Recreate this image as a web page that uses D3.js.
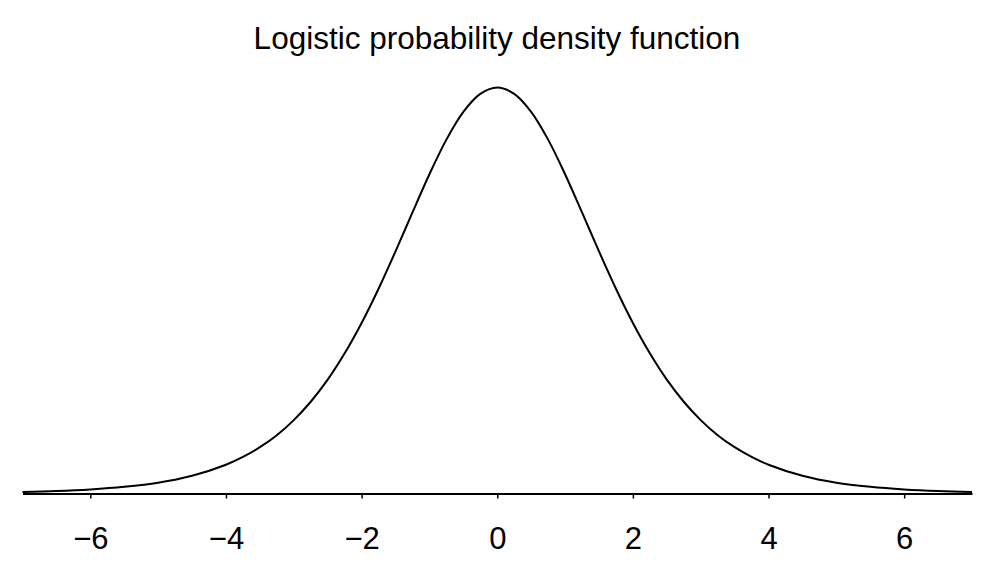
<!DOCTYPE html>
<html><head><meta charset="utf-8">
<script src="https://cdn.jsdelivr.net/npm/d3@7"></script>
<style>body{margin:0;background:#fff}svg{display:block}</style>
</head><body>
<svg id="c" width="995" height="587"></svg>
<script>
const title = "Logistic probability density function";
const xValues = [-7,-6.5,-6,-5.5,-5,-4.5,-4,-3.75,-3.5,-3.25,-3,-2.75,-2.5,-2.25,-2,-1.75,-1.5,-1.25,-1,-0.75,-0.5,-0.25,0,
  0.25,0.5,0.75,1,1.25,1.5,1.75,2,2.25,2.5,2.75,3,3.25,3.5,3.75,4,4.5,5,5.5,6,6.5,7];
const densityValues = [0.0009,0.0015,0.0025,0.0041,0.0066,0.0109,0.0177,0.0225,0.0285,0.0359,0.0452,0.0565,0.0701,0.0863,0.1050,0.1261,0.1491,0.1731,0.1966,0.2179,0.2350,0.2461,0.2500,
  0.2461,0.2350,0.2179,0.1966,0.1731,0.1491,0.1261,0.1050,0.0863,0.0701,0.0565,0.0452,0.0359,0.0285,0.0225,0.0177,0.0109,0.0066,0.0041,0.0025,0.0015,0.0009];
const tickValues = [-6,-4,-2,0,2,4,6];

const svg = d3.select("#c");
const x = d3.scaleLinear().domain([-7,7]).range([22.5,972]);
const y = d3.scaleLinear().domain([0,0.25]).range([493.5,87.5]);
const font = "'Liberation Sans', Arial, Helvetica, sans-serif";

svg.append("text").attr("x",497).attr("y",49).attr("text-anchor","middle")
  .attr("font-family",font).attr("font-size",31.5).attr("fill","#000").text(title);

const pts = xValues.map((v,i)=>[v,densityValues[i]]);
svg.append("path").datum(pts)
  .attr("d", d3.line().x(d=>x(d[0])).y(d=>y(d[1])).curve(d3.curveCatmullRom))
  .attr("fill","none").attr("stroke","#000").attr("stroke-width",2);

const ax = svg.append("g").attr("transform","translate(0,493.5)")
  .call(d3.axisBottom(x).tickValues(tickValues).tickSize(5).tickSizeOuter(0).tickPadding(28)
    .tickFormat(d=> d<0 ? "\u2212"+Math.abs(d) : String(d)));
ax.select(".domain").attr("stroke","#000").attr("stroke-width",2.2);
ax.selectAll(".tick line").attr("stroke","#000").attr("stroke-width",1.5);
ax.selectAll(".tick text").attr("font-family",font).attr("font-size",31).attr("fill","#000");
</script>
</body></html>
